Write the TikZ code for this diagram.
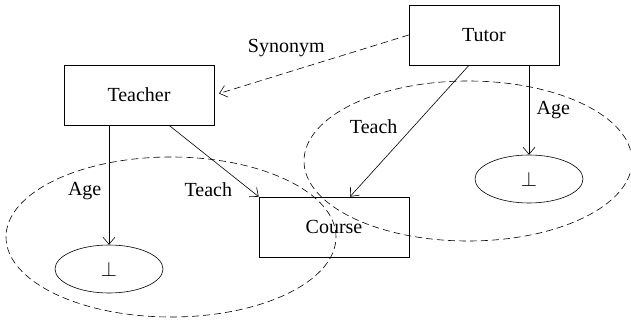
\documentclass[tikz,border=0pt]{standalone}
\usepackage{fontspec}
\setmainfont{Liberation Serif}
\usetikzlibrary{arrows.meta,shapes.geometric}
\begin{document}
\begin{tikzpicture}[x=1pt, y=1pt, font=\fontsize{20}{24}\selectfont, line width=0.6pt,
  concept/.style={draw, minimum width=150pt, minimum height=60pt},
  bottom/.style={draw, ellipse, minimum width=108pt, minimum height=48pt, inner sep=0pt},
  dashline/.style={dash pattern=on 7pt off 4pt},
  >={Straight Barb[length=7pt, width=12pt]}]
\useasboundingbox (0,0) rectangle (631,324);

\node[concept] (Teacher) at (139,229) {Teacher};
\node[concept] (Tutor) at (484,289) {Tutor};
\node[concept] (Course) at (334,97) {Course};
\node[bottom] (B1) at (109,55) {$\perp$};
\node[bottom] (B2) at (529,145) {$\perp$};

\draw[dashline] (171,87) ellipse (165 and 80);
\draw[dashline] (468,163) ellipse (164 and 80);

\draw[dashline, ->, shorten >=5pt] (Tutor.west) -- node[pos=0.63, above=12pt] {Synonym} (Teacher.east);
\draw[->] (B1.north |- Teacher.south) -- node[pos=0.55, left=4pt] {Age} (B1.north);
\draw[->] ([xshift=30pt]Teacher.south) -- node[pos=0.9, left=14pt] {Teach} (Course.north west);
\draw[->] ([xshift=-15pt]Tutor.south) -- node[pos=0.47, left=12pt] {Teach} ([xshift=16pt]Course.north);
\draw[->] (B2.north |- Tutor.south) -- node[midway, right=4pt] {Age} (B2.north);
\end{tikzpicture}
\end{document}
